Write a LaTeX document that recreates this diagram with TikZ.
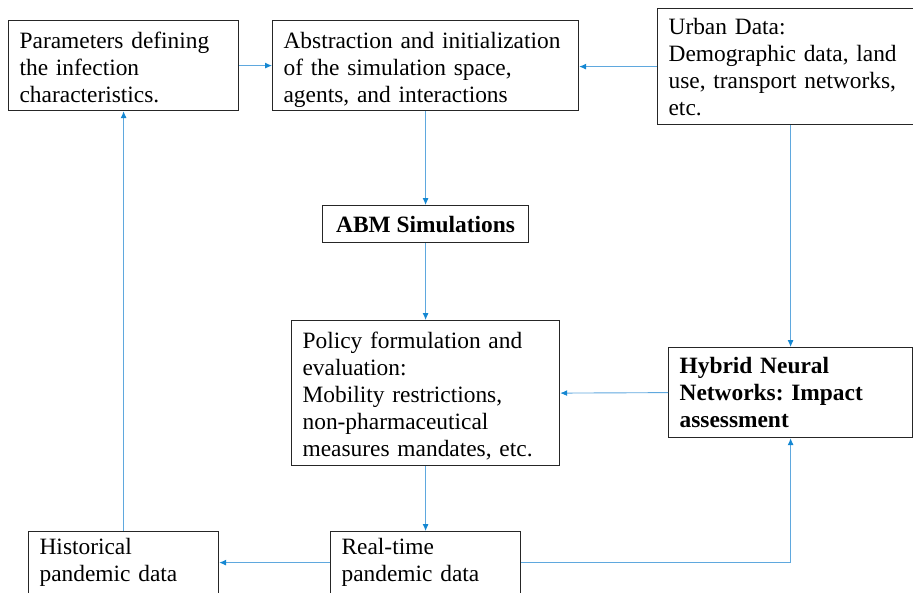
\documentclass[tikz,border=0pt]{standalone}
\usepackage{fontspec}
\setmainfont{Liberation Serif}
\usetikzlibrary{arrows.meta}
\definecolor{linkblue}{RGB}{95,168,222}
\definecolor{tipblue}{RGB}{20,135,210}
\frenchspacing

\begin{document}
\begin{tikzpicture}
	[
		x=1pt, y=-1pt,
		box/.style = {rectangle, anchor=north west, align=left, draw=black!85, line width=1.2pt, inner xsep=11pt, inner ysep=0pt, font=\fontsize{23.4}{27}\selectfont},
		drop/.style = {execute at begin node={\rule{0pt}{#1}}},
		link/.style = {draw=linkblue, line width=0.9pt, -{Latex[length=7pt,width=6pt,color=tipblue]}},
	]

	\useasboundingbox (0,0) rectangle (913,592);
	\clip (0,0) rectangle (913,592);

	% boxes
	\node[box, text width=208pt, minimum height=90, drop=20pt]	(params)	at (   8,  20 ) {Parameters defining\\the infection\\characteristics.};
	\node[box, text width=284pt, minimum height=90, drop=24pt]	(abstr)		at ( 272,  20 ) {Abstraction and initialization\\of the simulation space,\\agents, and interactions};
	\node[box, text width=234pt, minimum height=116]	(urban)		at ( 657,   8 ) {Urban Data:\\Demographic data, land\\use, transport networks,\\etc.};
	\node[box, minimum width=206, minimum height=37, align=center, inner xsep=0pt]	(abm)	at ( 322, 205 ) {\bfseries ABM Simulations};
	\node[box, text width=246pt, minimum height=145, drop=22pt]	(policy)	at ( 291, 320 ) {Policy formulation and\\evaluation:\\Mobility restrictions,\\non-pharmaceutical\\measures mandates, etc.};
	\node[box, text width=222pt, minimum height=90]	(hybrid)	at ( 668, 347 ) {\bfseries Hybrid Neural\\\bfseries Networks: Impact\\\bfseries assessment};
	\node[box, text width=168pt, minimum height=62]	(hist)		at (  28, 531 ) {Historical\\pandemic data};
	\node[box, text width=168pt, minimum height=62]	(rt)		at ( 330, 531 ) {Real-time\\pandemic data};

	\foreach \from/\to in {params.east/abstr.west,abstr.south/abm.north,abm.south/policy.north,policy.south/rt.north,rt.west/hist.east,hist.north/params.south,hybrid.west/policy.east}
	\draw[link] (\from) -- (\to);

	\draw[link] (urban.west) -- (urban.west -| abstr.east);
	\draw[link] (urban.south -| hybrid.north) -- (hybrid.north);
	\draw[link] (rt.east) -| (hybrid.south);

\end{tikzpicture}
\end{document}
